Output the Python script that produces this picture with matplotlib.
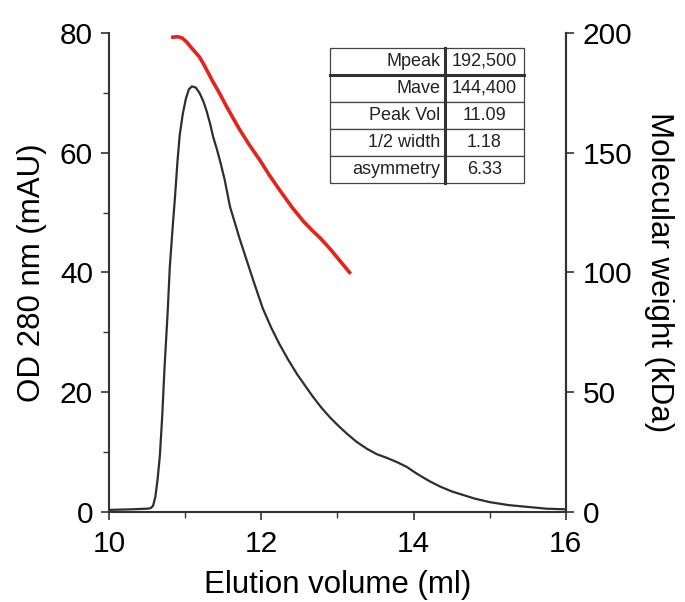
import matplotlib
matplotlib.use("Agg")
import matplotlib.pyplot as plt
from matplotlib.ticker import MultipleLocator
from matplotlib.lines import Line2D

plt.rcParams['font.family'] = ['Liberation Sans', 'DejaVu Sans']

# OD280 trace (mAU) vs elution volume (ml)
od_volume = [10.0, 10.3, 10.5, 10.55, 10.58, 10.61, 10.64, 10.67, 10.70, 10.73, 10.77,
             10.80, 10.84, 10.87, 10.90, 10.93, 10.97, 11.01, 11.05, 11.09, 11.14,
             11.19, 11.24, 11.28, 11.33, 11.37, 11.42, 11.46, 11.52, 11.59, 11.72,
             11.81, 11.90, 12.02, 12.13, 12.24, 12.35, 12.47, 12.58, 12.68, 12.79,
             12.90, 13.01, 13.12, 13.25, 13.39, 13.52, 13.65, 13.78, 13.91, 14.05,
             14.21, 14.35, 14.50, 14.65, 14.80, 15.00, 15.25, 15.50, 15.75, 16.0]
od_value = [0.3, 0.4, 0.5, 0.6, 1.0, 2.5, 5.5, 9.5, 16.0, 24.0, 33.0,
            41.0, 48.0, 53.0, 58.5, 63.0, 66.5, 69.0, 70.6, 71.1, 70.9,
            70.0, 68.6, 67.1, 64.8, 62.6, 60.5, 58.6, 55.5, 51.0, 45.5,
            42.0, 38.5, 34.0, 30.8, 28.0, 25.5, 23.0, 21.0, 19.2, 17.4,
            15.8, 14.4, 13.1, 11.7, 10.5, 9.6, 9.0, 8.3, 7.5, 6.3,
            5.1, 4.2, 3.4, 2.8, 2.2, 1.6, 1.1, 0.8, 0.5, 0.4]

# Molecular weight trace (kDa)
mw_volume = [10.84, 10.90, 10.96, 11.02, 11.08, 11.14, 11.19, 11.27, 11.36, 11.45,
             11.55, 11.63, 11.72, 11.85, 11.98, 12.11, 12.24, 12.33, 12.41, 12.55,
             12.67, 12.77, 12.90, 13.03, 13.16]
mw_value = [198.3, 198.5, 198.0, 196.3, 194.0, 191.8, 190.0, 185.5, 180.0, 175.0,
            169.0, 164.5, 159.5, 153.0, 147.0, 140.5, 134.5, 130.5, 127.0, 121.5,
            117.5, 114.5, 110.0, 105.0, 100.0]

table_labels = ["Mpeak", "Mave", "Peak Vol", "1/2 width", "asymmetry"]
table_values = ["192,500", "144,400", "11.09", "1.18", "6.33"]

x_ticks = [10, 12, 14, 16]
left_ticks = [0, 20, 40, 60, 80]
right_ticks = [0, 50, 100, 150, 200]

fig = plt.figure(figsize=(6.85, 6.02), dpi=100)
ax = fig.add_axes([0.159, 0.150, 0.667, 0.795])
ax2 = ax.twinx()

spine_c = '#333333'
ax.plot(od_volume, od_value, color='#2e2e2e', lw=1.6, zorder=3, solid_joinstyle='round')
ax2.plot(mw_volume, mw_value, color='#e3241b', lw=2.6, zorder=3, solid_joinstyle='round')

ax.set_xlim(10, 16)
ax.set_ylim(0, 80)
ax2.set_ylim(0, 200)
ax.set_xticks(x_ticks)
ax.set_yticks(left_ticks)
ax2.set_yticks(right_ticks)
ax.xaxis.set_minor_locator(MultipleLocator(1))
ax.yaxis.set_minor_locator(MultipleLocator(10))

for a in (ax, ax2):
    a.spines['top'].set_visible(False)
    for s in a.spines.values():
        s.set_color(spine_c)
        s.set_linewidth(1.5)
    a.tick_params(which='major', direction='out', length=6, width=1.2, color=spine_c,
                  labelsize=21.5)
    a.tick_params(which='minor', direction='out', length=4, width=1.0, color=spine_c)
ax.tick_params(axis='x', which='major', pad=7.5)
ax.tick_params(axis='y', which='major', pad=5.5)
ax2.tick_params(axis='y', which='major', pad=6)
ax2.spines['left'].set_visible(False)
ax2.spines['bottom'].set_visible(False)

ax.set_xlabel("Elution volume (ml)", fontsize=22.5, va='baseline')
ax.set_ylabel("OD 280 nm (mAU)", fontsize=22.5)
ax2.set_ylabel("Molecular weight (kDa)", fontsize=22.5, rotation=-90, va='center')
ax.xaxis.set_label_coords(0.5, (512 - 593) / 479)
ax.yaxis.set_label_coords(-0.136, 0.5)
ax2.yaxis.set_label_coords(1.203, 0.5)

# Summary table
tx0, tx1, ty0, ty1 = 0.484, 0.908, 0.687, 0.969
cw = 0.593
rows = len(table_labels)
rh = (ty1 - ty0) / rows
tb = ax.table(cellText=[[l, v] for l, v in zip(table_labels, table_values)],
              colWidths=[(tx1 - tx0) * cw, (tx1 - tx0) * (1 - cw)],
              bbox=[tx0, ty0, tx1 - tx0, ty1 - ty0], zorder=4)
tb.auto_set_font_size(False)
for (r, c), cell in tb.get_celld().items():
    cell.set_linewidth(0.9)
    cell.set_edgecolor('#444444')
    cell.set_facecolor('white')
    cell.get_text().set_fontsize(13)
    cell.get_text().set_color('#222222')
    if c == 0:
        cell.get_text().set_ha('right')
        cell._loc = 'right'
        cell.PAD = 0.04
    else:
        cell._loc = 'center'
        cell.get_text().set_ha('center')
xdiv = tx0 + (tx1 - tx0) * cw
ax.add_line(Line2D([xdiv, xdiv], [ty0, ty1], transform=ax.transAxes, color='#333333',
                   lw=2.2, zorder=5))
ax.add_line(Line2D([tx0, tx1], [ty1 - rh, ty1 - rh], transform=ax.transAxes,
                   color='#333333', lw=2.2, zorder=5))

fig.savefig("out.png", dpi=100)
